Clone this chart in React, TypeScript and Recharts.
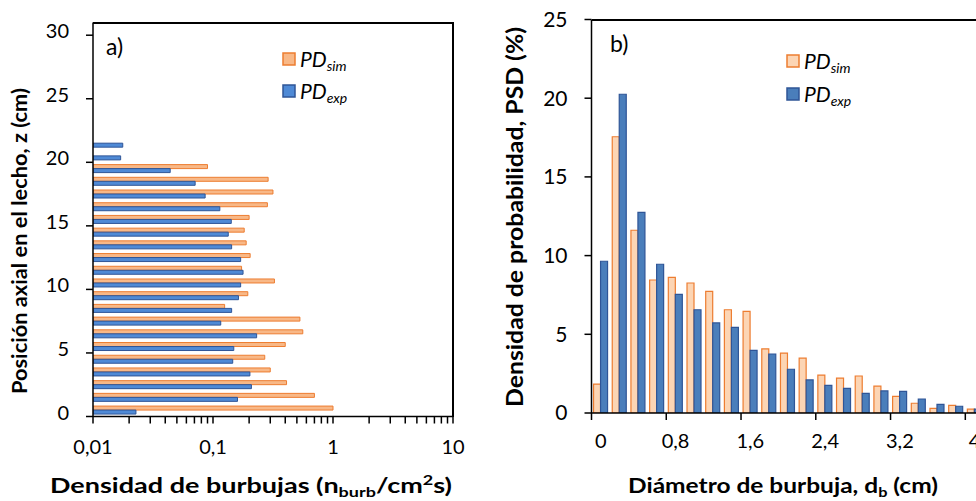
import React from "react"
import { BarChart, Bar, XAxis, YAxis } from "recharts"

// a) bubble density along the bed height (log scale)
const Z_LEVELS = [0, 1, 2, 3, 4, 5, 6, 7, 8, 9, 10, 11, 12, 13, 14, 15, 16, 17, 18, 19, 20, 21, 22, 23, 24, 25, 26, 27, 28, 29, 30]
const PD_SIM_A = [1.0, 0.7, 0.41, 0.3, 0.27, 0.4, 0.56, 0.53, 0.125, 0.195, 0.325, 0.173, 0.204, 0.189, 0.182, 0.2, 0.284, 0.316, 0.288, 0.09]
const PD_EXP_A = [0.0228, 0.16, 0.209, 0.203, 0.146, 0.149, 0.231, 0.116, 0.143, 0.163, 0.17, 0.178, 0.17, 0.143, 0.134, 0.142, 0.114, 0.086, 0.071, 0.044, 0.017, 0.0177]
const X_TICKS_A = [0.01, 0.02, 0.03, 0.04, 0.05, 0.06, 0.07, 0.08, 0.09, 0.1, 0.2, 0.3, 0.4, 0.5, 0.6, 0.7, 0.8, 0.9, 1, 2, 3, 4, 5, 6, 7, 8, 9, 10]
const X_LABELS_A: Record<number, string> = { 0.01: "0,01", 0.1: "0,1", 1: "1", 10: "10" }
const Z_LABELED = [0, 5, 10, 15, 20, 25, 30]

// b) bubble size distribution
const DIAMETERS = ["0", "0,2", "0,4", "0,6", "0,8", "1", "1,2", "1,4", "1,6", "1,8", "2", "2,2", "2,4", "2,6", "2,8", "3", "3,2", "3,4", "3,6", "3,8", "4"]
const PSD_SIM = [1.84, 17.55, 11.61, 8.45, 8.62, 8.26, 7.73, 6.56, 6.46, 4.07, 3.81, 3.48, 2.41, 2.22, 2.35, 1.71, 1.06, 0.62, 0.3, 0.49, 0.24]
const PSD_EXP = [9.64, 20.25, 12.75, 9.45, 7.54, 6.56, 5.72, 5.44, 3.98, 3.75, 2.78, 2.1, 1.76, 1.57, 1.25, 1.4, 1.38, 0.89, 0.55, 0.43, 0.25]
const Y_TICKS_B = [0, 5, 10, 15, 20, 25]

const FONT = "Lato, 'Open Sans', sans-serif"
const ORANGE = "#ed7d31"
const DARK_BLUE = "#2f5597"
const SIM_A = "#f8b887"
const EXP_A = "#4f8ad6"
const SIM_B = "#fcd5b4"
const EXP_B = "#4a7ebb"
const AXIS_LINE = { stroke: "#000", strokeWidth: 1.5 }

// chart boxes and margins (also used for the plot frames)
const W_A = 480
const H = 501
const M_A = { top: 22.5, right: 27, bottom: 44.5, left: 33 }
const LEFT_B = 480
const W_B = 520
const M_B = { top: 19.5, right: 16, bottom: 48, left: 51.5 }
const Y_AXIS_W = 60
const X_AXIS_H = 40

const dataA = Z_LEVELS.map((z, i) => ({
  z,
  sim: PD_SIM_A[i] ?? null,
  exp: PD_EXP_A[i] ?? null,
}))

const dataB = DIAMETERS.map((d, i) => ({ d, sim: PSD_SIM[i], exp: PSD_EXP[i] }))

const PLOT_H_A = H - M_A.top - M_A.bottom - X_AXIS_H
const BAND_A = PLOT_H_A / Z_LEVELS.length
const PLOT_W_B = W_B - M_B.left - M_B.right - Y_AXIS_W
const BAND_B = PLOT_W_B / DIAMETERS.length

function LogTick(props: any) {
  const { x, y, payload } = props
  const label = X_LABELS_A[payload.value]
  return (
    <g>
      <line x1={x} x2={x} y1={y} y2={y + 7} stroke="#000" strokeWidth={1.5} />
      {label && (
        <text x={x} y={y + 37} textAnchor="middle" fontSize={20} fontFamily={FONT} fill="#000">
          {label}
        </text>
      )}
    </g>
  )
}

function CatTick(props: any) {
  const { x, y, payload } = props
  const edge = x - BAND_B / 2
  return (
    <g>
      <line x1={edge} x2={edge} y1={y} y2={y + 7} stroke="#000" strokeWidth={1.5} />
      <text x={x} y={y + 35} textAnchor="middle" fontSize={20} fontFamily={FONT} fill="#000">
        {payload.value}
      </text>
    </g>
  )
}

// z axis of a): label sits on the lower edge of its band (z = k)
function ZTick(props: any) {
  const { x, y, payload } = props
  if (!Z_LABELED.includes(payload.value)) return <g />
  const axisX = x + 24
  const edgeY = y + BAND_A / 2
  return (
    <g>
      <line x1={axisX - 7} x2={axisX} y1={edgeY} y2={edgeY} stroke="#000" strokeWidth={1.5} />
      <text x={x} y={edgeY - 4} dy="0.35em" textAnchor="end" fontSize={20} fontFamily={FONT} fill="#000">
        {payload.value}
      </text>
    </g>
  )
}

function YTick(props: any) {
  const { x, y, payload } = props
  return (
    <text x={x} y={y} dy="0.35em" textAnchor="end" fontSize={21} fontFamily={FONT} fill="#000">
      {payload.value}
    </text>
  )
}

function Legend({ x, y, fill, stroke, sub }: { x: number; y: number; fill: string; stroke: string; sub: string }) {
  return (
    <g>
      <rect x={x} y={y - 6.5} width={12} height={12} fill={fill} stroke={stroke} strokeWidth={1.5} />
      <text x={x + 17} y={y + 7} fontSize={21} fontStyle="italic" fontFamily={FONT} fill="#000">
        PD
        <tspan fontSize={14} dy={4}>{sub}</tspan>
      </text>
    </g>
  )
}

export default function App() {
  const aLeft = M_A.left + Y_AXIS_W
  const aRight = W_A - M_A.right
  const aTop = M_A.top
  const bLeft = LEFT_B + M_B.left + Y_AXIS_W
  const bRight = LEFT_B + W_B - M_B.right
  const bTop = M_B.top

  return (
    <div
      style={{
        position: "absolute",
        left: 0,
        top: 0,
        width: 976,
        height: 501,
        overflow: "hidden",
        background: "#fff",
        fontFamily: FONT,
      }}
    >
      <div style={{ position: "absolute", left: 0, top: 0 }}>
        <BarChart
          width={W_A}
          height={H}
          data={dataA}
          layout="vertical"
          margin={M_A}
          barCategoryGap="18%"
          barGap={0}
        >
          <XAxis
            type="number"
            scale="log"
            domain={[0.01, 10]}
            ticks={X_TICKS_A}
            interval={0}
            allowDataOverflow
            height={X_AXIS_H}
            tick={<LogTick />}
            tickLine={false}
            tickSize={0}
            tickMargin={0}
            axisLine={AXIS_LINE}
          />
          <YAxis
            type="category"
            dataKey="z"
            reversed
            interval={0}
            width={Y_AXIS_W}
            tickSize={0}
            tickMargin={24}
            tick={<ZTick />}
            tickLine={false}
            axisLine={AXIS_LINE}
          />
          <Bar dataKey="sim" fill={SIM_A} stroke={ORANGE} strokeWidth={1} isAnimationActive={false} />
          <Bar dataKey="exp" fill={EXP_A} stroke={DARK_BLUE} strokeWidth={1} isAnimationActive={false} />
        </BarChart>
      </div>

      <div style={{ position: "absolute", left: LEFT_B, top: 0 }}>
        <BarChart width={W_B} height={H} data={dataB} margin={M_B} barCategoryGap="11%" barGap={0}>
          <XAxis
            dataKey="d"
            interval={3}
            height={X_AXIS_H}
            tick={<CatTick />}
            tickLine={false}
            tickSize={0}
            tickMargin={0}
            axisLine={AXIS_LINE}
          />
          <YAxis
            type="number"
            domain={[0, 25]}
            ticks={Y_TICKS_B}
            allowDataOverflow
            width={Y_AXIS_W}
            tickSize={7}
            tickMargin={17}
            tick={<YTick />}
            tickLine={AXIS_LINE}
            axisLine={AXIS_LINE}
          />
          <Bar dataKey="sim" fill={SIM_B} stroke={ORANGE} strokeWidth={1.2} isAnimationActive={false} />
          <Bar dataKey="exp" fill={EXP_B} stroke={DARK_BLUE} strokeWidth={1.2} isAnimationActive={false} />
        </BarChart>
      </div>

      {/* plot frames: top and right edges */}
      <div
        style={{
          position: "absolute",
          left: aLeft,
          top: aTop - 1,
          width: aRight - aLeft + 1,
          height: PLOT_H_A + 1,
          borderTop: "2px solid #000",
          borderRight: "2px solid #000",
          boxSizing: "border-box",
        }}
      />
      <div
        style={{
          position: "absolute",
          left: bLeft,
          top: bTop - 1,
          width: bRight - bLeft,
          height: 2,
          background: "#000",
        }}
      />

      <svg width={976} height={501} style={{ position: "absolute", left: 0, top: 0, pointerEvents: "none" }} fontFamily={FONT}>
        <text x={106} y={55} fontSize={23} fill="#000">a)</text>
        <text x={610} y={52} fontSize={23} fill="#000">b)</text>

        <Legend x={283} y={59.5} fill={SIM_A} stroke={ORANGE} sub="sim" />
        <Legend x={283} y={91.5} fill={EXP_A} stroke={DARK_BLUE} sub="exp" />
        <Legend x={787} y={61.5} fill={SIM_B} stroke={ORANGE} sub="sim" />
        <Legend x={787} y={94.5} fill={EXP_B} stroke={DARK_BLUE} sub="exp" />

        <text
          x={20}
          y={248}
          transform="rotate(-90 20 241)"
          textAnchor="middle"
          fontSize={21}
          fontWeight={700}
          textLength={306}
          lengthAdjust="spacingAndGlyphs"
          fill="#000"
        >
          Posición axial en el lecho, z (cm)
        </text>
        <text
          x={516}
          y={224}
          transform="rotate(-90 516 217)"
          textAnchor="middle"
          fontSize={22}
          fontWeight={700}
          textLength={380}
          lengthAdjust="spacingAndGlyphs"
          fill="#000"
        >
          Densidad de probabilidad, PSD (%)
        </text>
        <text
          x={251}
          y={493}
          textAnchor="middle"
          fontSize={21}
          fontWeight={700}
          textLength={402}
          lengthAdjust="spacingAndGlyphs"
          fill="#000"
        >
          Densidad de burbujas (n
          <tspan fontSize={14} dy={4}>burb</tspan>
          <tspan dy={-4}>/cm</tspan>
          <tspan fontSize={14} dy={-8}>2</tspan>
          <tspan dy={8}>s)</tspan>
        </text>
        <text
          x={783}
          y={493}
          textAnchor="middle"
          fontSize={21}
          fontWeight={700}
          textLength={310}
          lengthAdjust="spacingAndGlyphs"
          fill="#000"
        >
          Diámetro de burbuja, d
          <tspan fontSize={14} dy={4}>b</tspan>
          <tspan dy={-4}> (cm)</tspan>
        </text>
      </svg>
    </div>
  )
}
